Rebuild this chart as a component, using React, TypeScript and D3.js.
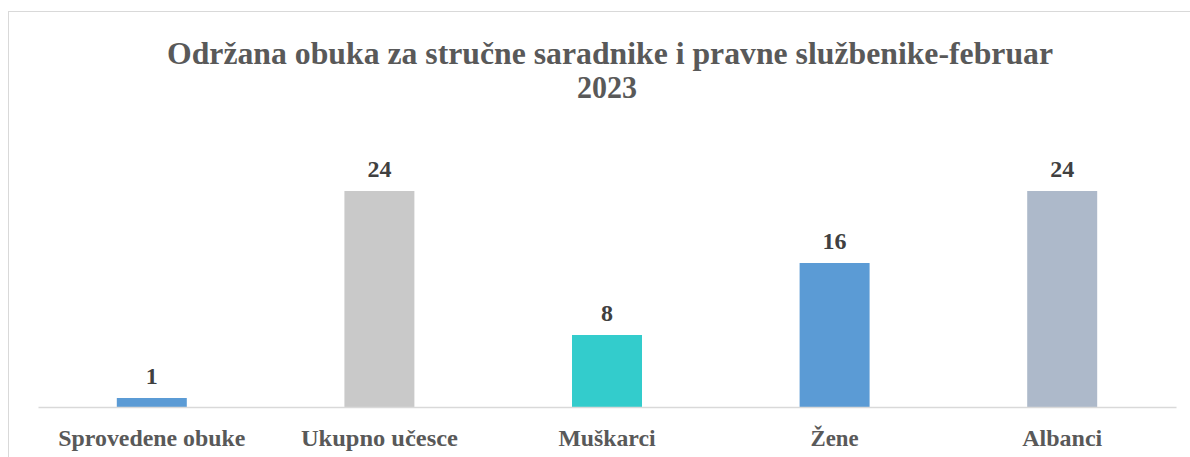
import React, { useRef, useEffect } from 'react';
import * as d3 from 'd3';

const categories = ['Sprovedene obuke', 'Ukupno učesce', 'Muškarci', 'Žene', 'Albanci'];
const values = [1, 24, 8, 16, 24];
const barColors = ['#5B9BD5', '#C9C9C9', '#33CCCC', '#5B9BD5', '#ADB9CA'];
const titleLines = ['Održana  obuka za stručne saradnike i pravne službenike-februar', '2023'];
// rendered widths of the category labels in the reference
const labelWidths = [187, 157, 97, 48, 80];

const W = 1190;
const H = 457;

export default function App() {
  const svgRef = useRef<SVGSVGElement>(null);

  useEffect(() => {
    const svg = d3.select(svgRef.current);
    svg.selectAll('*').remove();

    const margin = { left: 38, right: 14, top: 191, bottom: 50 };
    const baseY = 407;
    const font = '"Liberation Serif", "Times New Roman", serif';

    // chart border (runs off the right and bottom)
    svg
      .append('rect')
      .attr('x', 8.5)
      .attr('y', 11.5)
      .attr('width', 1220)
      .attr('height', 480)
      .attr('fill', '#fff')
      .attr('stroke', '#D9D9D9')
      .attr('stroke-width', 1);

    const x = d3
      .scaleBand<string>()
      .domain(categories)
      .range([margin.left, W - margin.right])
      .paddingInner(0.6925)
      .paddingOuter(0.34625);

    const y = d3.scaleLinear().domain([0, 24]).range([baseY, margin.top]);

    // title
    svg
      .append('g')
      .selectAll('text')
      .data(titleLines)
      .enter()
      .append('text')
      .attr('x', (d, i) => (i === 0 ? 610 : 607))
      .attr('y', (d, i) => 64 + i * 34)
      .attr('text-anchor', 'middle')
      .attr('font-family', font)
      .attr('font-weight', 'bold')
      .attr('font-size', 31)
      .attr('fill', '#595959')
      .attr('textLength', (d, i) => (i === 0 ? 886 : 60))
      .attr('lengthAdjust', 'spacingAndGlyphs')
      .text((d) => d);

    // bars
    svg
      .selectAll('.bar')
      .data(values)
      .enter()
      .append('rect')
      .attr('class', 'bar')
      .attr('x', (d, i) => x(categories[i]) as number)
      .attr('y', (d) => y(d))
      .attr('width', x.bandwidth())
      .attr('height', (d) => baseY - y(d))
      .attr('fill', (d, i) => barColors[i]);

    // axis line + category labels
    const xAxis = d3.axisBottom(x).tickSize(0).tickPadding(22);
    const axisG = svg.append('g').attr('transform', `translate(0, ${baseY})`).call(xAxis);
    axisG.select('.domain').attr('stroke', '#D9D9D9').attr('stroke-width', 1.5);
    axisG
      .selectAll('text')
      .attr('font-family', font)
      .attr('font-weight', 'bold')
      .attr('font-size', 24)
      .attr('fill', '#595959')
      .attr('textLength', (d, i) => labelWidths[i])
      .attr('lengthAdjust', 'spacingAndGlyphs');

    // value labels
    svg
      .selectAll('.val')
      .data(values)
      .enter()
      .append('text')
      .attr('class', 'val')
      .attr('x', (d, i) => (x(categories[i]) as number) + x.bandwidth() / 2)
      .attr('y', (d) => y(d) - 14)
      .attr('text-anchor', 'middle')
      .attr('font-family', font)
      .attr('font-weight', 'bold')
      .attr('font-size', 24)
      .attr('fill', '#404040')
      .text((d) => d);
  }, []);

  return (
    <svg
      ref={svgRef}
      width={W}
      height={H}
      style={{ position: 'absolute', left: 0, top: 0, display: 'block' }}
    />
  );
}
